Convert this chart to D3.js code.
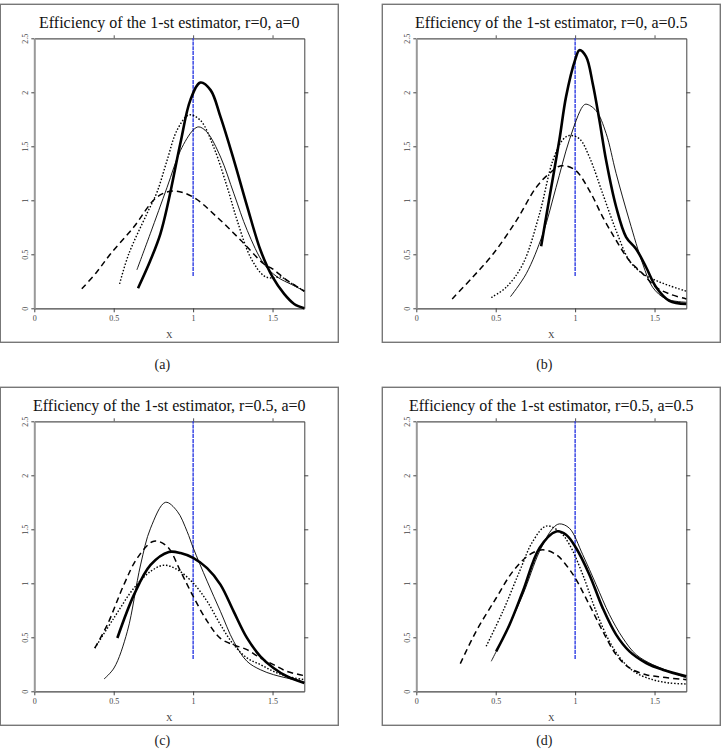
<!DOCTYPE html>
<html>
<head>
<meta charset="utf-8">
<title>Efficiency of the 1-st estimator</title>
<script src="https://cdn.jsdelivr.net/npm/d3@7"></script>
<style>
  body { margin: 0; background: #fff; }
  svg { display: block; font-family: 'Liberation Serif', 'Times New Roman', serif; }
</style>
</head>
<body>
<script>
// tick labels
const xTicks = [0, 0.5, 1, 1.5];
const yTicks = [0, 0.5, 1, 1.5, 2, 2.5];
const titles = [
  'Efficiency of the 1-st estimator, r=0, a=0',
  'Efficiency of the 1-st estimator, r=0, a=0.5',
  'Efficiency of the 1-st estimator, r=0.5, a=0',
  'Efficiency of the 1-st estimator, r=0.5, a=0.5'
];
const captions = ['(a)', '(b)', '(c)', '(d)'];
const markerX = 1;
const markerY = [0.3, 2.5];

// (a) r=0, a=0   -- [x, efficiency]
const aThick = [[0.653,0.186],[0.73,0.44],[0.794,0.69],[0.846,1.0],[0.92,1.53],[0.983,1.93],[1.046,2.09],[1.11,2.02],[1.173,1.77],[1.257,1.37],[1.341,0.94],[1.425,0.535],[1.5,0.29],[1.573,0.133],[1.636,0.04],[1.70,0.0]];
const aThin = [[0.646,0.356],[0.73,0.69],[0.836,1.12],[0.92,1.46],[1.0,1.65],[1.036,1.68],[1.088,1.63],[1.173,1.40],[1.257,1.06],[1.341,0.72],[1.446,0.41],[1.53,0.29],[1.62,0.22],[1.70,0.16]];
const aDot = [[0.537,0.226],[0.594,0.5],[0.709,0.876],[0.773,1.077],[0.836,1.37],[0.899,1.65],[0.973,1.79],[1.046,1.74],[1.13,1.49],[1.215,1.12],[1.278,0.81],[1.362,0.47],[1.446,0.30],[1.5,0.28],[1.55,0.29],[1.62,0.23],[1.70,0.16]];
const aDash = [[0.299,0.18],[0.39,0.33],[0.478,0.5],[0.625,0.75],[0.773,1.03],[0.878,1.086],[1.0,1.03],[1.15,0.845],[1.3,0.63],[1.446,0.41],[1.5,0.365],[1.594,0.257],[1.70,0.158]];

// (b) r=0, a=0.5
const bThick = [[0.786,0.575],[0.839,1.03],[0.901,1.56],[0.943,1.96],[1.0,2.30],[1.027,2.39],[1.069,2.33],[1.111,2.08],[1.153,1.74],[1.195,1.37],[1.258,0.94],[1.321,0.66],[1.384,0.55],[1.447,0.38],[1.51,0.195],[1.593,0.07],[1.70,0.04]];
const bThin = [[0.593,0.108],[0.692,0.32],[0.797,0.69],[0.88,1.12],[0.964,1.56],[1.048,1.87],[1.069,1.89],[1.132,1.83],[1.195,1.62],[1.258,1.25],[1.342,0.81],[1.426,0.41],[1.488,0.195],[1.572,0.087],[1.70,0.056]];
const bDot = [[0.472,0.10],[0.566,0.195],[0.671,0.41],[0.776,0.876],[0.86,1.37],[0.922,1.56],[0.964,1.60],[1.027,1.57],[1.09,1.40],[1.174,1.06],[1.258,0.72],[1.342,0.44],[1.426,0.32],[1.51,0.257],[1.593,0.21],[1.70,0.158]];
const bDash = [[0.226,0.087],[0.356,0.29],[0.482,0.5],[0.629,0.81],[0.755,1.12],[0.839,1.25],[0.912,1.32],[1.0,1.28],[1.09,1.09],[1.174,0.845],[1.258,0.63],[1.342,0.44],[1.426,0.32],[1.51,0.195],[1.593,0.133],[1.70,0.087]];

// (c) r=0.5, a=0
const cThick = [[0.523,0.494],[0.628,0.895],[0.732,1.17],[0.847,1.29],[0.921,1.28],[1.0,1.235],[1.088,1.14],[1.172,0.988],[1.255,0.74],[1.339,0.494],[1.423,0.324],[1.506,0.216],[1.59,0.139],[1.70,0.077]];
const cThin = [[0.439,0.114],[0.502,0.216],[0.586,0.556],[0.669,1.17],[0.732,1.51],[0.826,1.75],[0.9,1.667],[0.962,1.48],[1.0,1.33],[1.088,1.02],[1.172,0.74],[1.255,0.463],[1.339,0.278],[1.423,0.2],[1.506,0.154],[1.59,0.123],[1.70,0.086]];
const cDot = [[0.381,0.40],[0.502,0.68],[0.628,0.957],[0.732,1.11],[0.816,1.167],[0.9,1.127],[1.0,1.003],[1.088,0.833],[1.172,0.617],[1.255,0.432],[1.339,0.309],[1.423,0.247],[1.506,0.185],[1.59,0.139],[1.70,0.108]];
const cDash = [[0.381,0.40],[0.46,0.617],[0.565,0.99],[0.649,1.235],[0.753,1.39],[0.837,1.34],[0.921,1.11],[1.0,0.88],[1.088,0.65],[1.172,0.49],[1.255,0.43],[1.339,0.386],[1.423,0.309],[1.506,0.247],[1.59,0.185],[1.70,0.145]];

// (d) r=0.5, a=0.5
const dThick = [[0.503,0.37],[0.587,0.617],[0.671,0.926],[0.776,1.327],[0.881,1.48],[0.943,1.45],[1.006,1.327],[1.09,1.08],[1.174,0.77],[1.258,0.525],[1.342,0.37],[1.447,0.262],[1.551,0.2],[1.70,0.139]];
const dThin = [[0.472,0.278],[0.566,0.556],[0.671,0.895],[0.776,1.296],[0.86,1.51],[0.901,1.55],[0.964,1.51],[1.048,1.265],[1.132,0.988],[1.216,0.71],[1.3,0.494],[1.384,0.34],[1.488,0.247],[1.593,0.185],[1.70,0.123]];
const dDot = [[0.44,0.417],[0.545,0.74],[0.65,1.11],[0.734,1.39],[0.818,1.53],[0.901,1.48],[0.964,1.36],[1.048,1.08],[1.132,0.74],[1.216,0.463],[1.3,0.278],[1.384,0.17],[1.488,0.108],[1.593,0.077],[1.70,0.068]];
const dDash = [[0.277,0.256],[0.377,0.556],[0.503,0.864],[0.608,1.11],[0.713,1.265],[0.797,1.31],[0.881,1.265],[0.943,1.17],[1.0,1.05],[1.09,0.80],[1.174,0.556],[1.258,0.34],[1.342,0.216],[1.447,0.154],[1.551,0.13],[1.70,0.108]];

const panelSeries = [
  [aDash, aDot, aThin, aThick],
  [bDash, bDot, bThin, bThick],
  [cDash, cDot, cThin, cThick],
  [dDash, dDot, dThin, dThick]
];

// line looks, same order as panelSeries
const styles = [
  { w: 1.5, dash: '6,4' },
  { w: 1.4, dash: '1.5,1.8' },
  { w: 0.9, dash: null },
  { w: 2.6, dash: null }
];

const W = 726, H = 756;
const pw = 270, ph = 270, pad = 34;
const colX = [34.3, 416.3];
const rowY = [38.3, 421.3];
const capY = [369, 745];
const serif = "'Liberation Serif', 'Times New Roman', serif";

const svg = d3.select('body').append('svg')
  .attr('width', W).attr('height', H);

const x = d3.scaleLinear().domain([0, 1.7]).range([0, pw]);
const y = d3.scaleLinear().domain([0, 2.5]).range([ph, 0]);

const line = d3.line()
  .x(d => x(d[0]))
  .y(d => y(d[1]))
  .curve(d3.curveCatmullRom.alpha(0.5));

panelSeries.forEach(function(series, i) {
  let px = colX[i % 2], py = rowY[Math.floor(i / 2)];
  let g = svg.append('g').attr('transform', 'translate(' + px + ',' + py + ')');

  // outer frame
  g.append('rect')
    .attr('x', -pad).attr('y', -pad)
    .attr('width', pw + 2 * pad).attr('height', ph + 2 * pad)
    .attr('fill', 'none').attr('stroke', '#777').attr('stroke-width', 1.4);

  g.append('text')
    .attr('x', pw / 2).attr('y', -10)
    .attr('text-anchor', 'middle')
    .style('font-size', '16px').attr('fill', '#111')
    .text(titles[i]);

  // axes
  let bottom = g.append('g').attr('transform', 'translate(0,' + ph + ')')
    .call(d3.axisBottom(x).tickValues(xTicks).tickSize(4).tickSizeOuter(0).tickFormat(d => String(d)));
  bottom.attr('color', '#444');
  bottom.select('.domain').attr('stroke-width', 1.2);
  bottom.selectAll('.tick text').attr('y', 13).attr('dy', null)
    .style('font-size', '8px').style('font-family', serif);

  let top = g.append('g')
    .call(d3.axisTop(x).tickValues([0.5, 1, 1.5]).tickSize(3).tickSizeOuter(0).tickFormat(''));
  top.attr('color', '#555');
  top.select('.domain').attr('stroke-width', 1.2);

  let left = g.append('g')
    .call(d3.axisLeft(y).tickValues(yTicks).tickSize(3).tickSizeOuter(0).tickFormat(d => String(d)));
  left.attr('color', '#444');
  left.select('.domain').attr('stroke', '#999').attr('stroke-width', 2);
  left.selectAll('.tick text')
    .attr('x', null).attr('dy', null)
    .attr('transform', 'translate(-6,0) rotate(-90)')
    .attr('text-anchor', 'middle')
    .style('font-size', '8px').style('font-family', serif);

  let right = g.append('g').attr('transform', 'translate(' + pw + ',0)')
    .call(d3.axisRight(y).tickValues([0.5, 1, 1.5, 2]).tickSize(4).tickSizeOuter(0).tickFormat(''));
  right.attr('color', '#444');

  g.append('text')
    .attr('x', x(0.85)).attr('y', ph + 30)
    .attr('text-anchor', 'middle')
    .style('font-size', '9px').attr('fill', '#333')
    .text('X');

  // blue reference line at x = 1
  g.append('line')
    .attr('x1', x(markerX)).attr('x2', x(markerX))
    .attr('y1', y(markerY[0])).attr('y2', y(markerY[1]))
    .attr('stroke', '#1f2fe0').attr('stroke-width', 1.3)
    .attr('stroke-dasharray', '4,0.8');

  series.forEach(function(s, k) {
    g.append('path')
      .datum(s)
      .attr('d', line)
      .attr('fill', 'none')
      .attr('stroke', '#000')
      .attr('stroke-width', styles[k].w)
      .attr('stroke-dasharray', styles[k].dash);
  });

  svg.append('text')
    .attr('x', px + pw / 2 - 7).attr('y', capY[Math.floor(i / 2)])
    .attr('text-anchor', 'middle')
    .style('font-size', '14px').attr('fill', '#222')
    .text(captions[i]);
});
</script>
</body>
</html>
